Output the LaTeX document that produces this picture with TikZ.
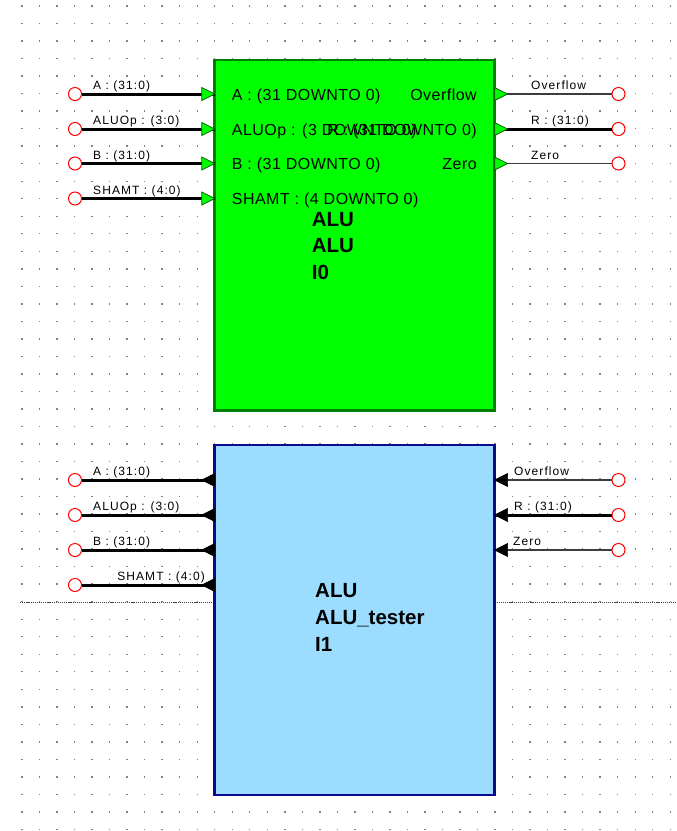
\documentclass[tikz,border=0pt]{standalone}
\usepackage{fontspec}
\setmainfont{Liberation Sans}
\newfontfamily\extf[LetterSpace=9]{Liberation Sans}
\newfontfamily\intf[LetterSpace=3]{Liberation Sans}
\definecolor{ggreen}{RGB}{0,255,0}
\definecolor{gborder}{RGB}{0,128,0}
\definecolor{bfill}{RGB}{155,220,255}
\definecolor{bborder}{RGB}{10,10,140}
\definecolor{gridc}{RGB}{130,130,130}
\definecolor{wirec}{RGB}{60,60,60}
\begin{document}
\begin{tikzpicture}[x=1pt,y=-1pt,
  portc/.style={circle,draw=red,line width=1pt,fill=white,minimum size=13pt,inner sep=0pt},
  bus/.style={line width=3pt,black},
  wire/.style={line width=1.4pt,wirec},
  extlab/.style={inner sep=0pt,font=\extf\fontsize{12}{13}\selectfont},
  intlab/.style={inner sep=0pt,font=\intf\fontsize{16}{17}\selectfont},
  boldlab/.style={inner sep=0pt,anchor=base west,font=\fontsize{20.5}{22}\selectfont\bfseries},
  gtri/.style={fill=ggreen,draw=black!60!green,line width=0.8pt},
  btri/.style={fill=black,draw=black,line width=0.6pt},
  pinR/.pic={\filldraw[gtri] (-13,-6.5) -- (0,0) -- (-13,6.5) -- cycle;},
  poutR/.pic={\filldraw[gtri] (0,-6.5) -- (13,0) -- (0,6.5) -- cycle;},
  bpinL/.pic={\filldraw[btri] (0,-6.5) -- (-13,0) -- (0,6.5) -- cycle;},
  bpoutL/.pic={\filldraw[btri] (13,-6.5) -- (0,0) -- (13,6.5) -- cycle;}
]
\useasboundingbox (0,0) rectangle (677,831);
\fill[white] (0,0) rectangle (677,831);
% dot grid
\foreach \i in {0,...,37}{
  \foreach \j in {0,...,47}{
    \fill[gridc] ({22+17.52*\i-0.7},{6+17.52*\j-0.7}) rectangle ++(1.4,1.4);
  }
}
% dotted separator
\draw[black!75,line width=1pt,dash pattern=on 1.2pt off 0.9pt] (20,602.5) -- (677,602.5);

% boxes
\node[draw=gborder,fill=ggreen,line width=2.5pt,minimum width=279.9pt,minimum height=350.5pt,inner sep=0pt] (alu) at (354.65,235.25) {};
\node[draw=bborder,fill=bfill,line width=2.5pt,minimum width=279.9pt,minimum height=350pt,inner sep=0pt] (tst) at (354.65,620) {};

% ---------- ALU (green) ----------
\coordinate (gA) at (214.7,94);
\coordinate (gOp) at (214.7,129);
\coordinate (gB) at (214.7,163.5);
\coordinate (gS) at (214.7,198.5);
\coordinate (gOv) at (494.6,94);
\coordinate (gR) at (494.6,129);
\coordinate (gZ) at (494.6,163.5);

\node[portc] (cA) at (75,94) {};
\node[portc] (cOp) at (75,129) {};
\node[portc] (cB) at (75,163.5) {};
\node[portc] (cS) at (75,198.5) {};
\node[portc] (cOv) at (618.5,94) {};
\node[portc] (cR) at (618.5,129) {};
\node[portc] (cZ) at (618.5,163.5) {};

\draw[bus] (cA) -- (gA);
\draw[bus] (cOp) -- (gOp);
\draw[bus] (cB) -- (gB);
\draw[bus] (cS) -- (gS);
\draw[wire] (gOv) -- (cOv);
\draw[bus] (gR) -- (cR);
\draw[wire] (gZ) -- (cZ);

\pic at (gA) {pinR};
\pic at (gOp) {pinR};
\pic at (gB) {pinR};
\pic at (gS) {pinR};
\pic at (gOv) {poutR};
\pic at (gR) {poutR};
\pic at (gZ) {poutR};

\node[extlab,anchor=base west] (lA) at (93,89.5) {A : (31:0)};
\node[extlab,anchor=base west] (lOp) at (93,124.5) {ALUOp : (3:0)};
\node[extlab,anchor=base west] (lB) at (93,159) {B : (31:0)};
\node[extlab,anchor=base west] (lS) at (93,194) {SHAMT : (4:0)};
\node[extlab,anchor=base west] (lOv) at (531,89.5) {Overflow};
\node[extlab,anchor=base west] (lR) at (531,124.5) {R : (31:0)};
\node[extlab,anchor=base west] (lZ) at (531,159) {Zero};

\node[intlab,anchor=base west] (iA) at (231.7,100) {A : (31 DOWNTO 0)};
\node[intlab,anchor=base west] (iOp) at (231.7,135) {ALUOp : (3 DOWNTO 0)};
\node[intlab,anchor=base west] (iB) at (231.7,169.5) {B : (31 DOWNTO 0)};
\node[intlab,anchor=base west] (iS) at (231.7,204.5) {SHAMT : (4 DOWNTO 0)};
\node[intlab,anchor=base east] (iOv) at (477,100) {Overflow};
\node[intlab,anchor=base east] (iR) at (477,135) {R : (31 DOWNTO 0)};
\node[intlab,anchor=base east] (iZ) at (477,169.5) {Zero};

\node[boldlab] (t1) at (311.7,226.5) {ALU};
\node[boldlab] (t2) at (311.7,252.5) {ALU};
\node[boldlab] (t3) at (311.7,279) {I0};

% ---------- ALU_tester (blue) ----------
\coordinate (bA) at (214.7,480);
\coordinate (bOp) at (214.7,515);
\coordinate (bB) at (214.7,550);
\coordinate (bS) at (214.7,585);
\coordinate (bOv) at (494.6,480);
\coordinate (bR) at (494.6,515);
\coordinate (bZ) at (494.6,550);

\node[portc] (dA) at (75,480) {};
\node[portc] (dOp) at (75,515) {};
\node[portc] (dB) at (75,550) {};
\node[portc] (dS) at (75,585) {};
\node[portc] (dOv) at (618.5,480) {};
\node[portc] (dR) at (618.5,515) {};
\node[portc] (dZ) at (618.5,550) {};

\draw[bus] (dA) -- (bA);
\draw[bus] (dOp) -- (bOp);
\draw[bus] (dB) -- (bB);
\draw[bus] (dS) -- (bS);
\draw[wire] (bOv) -- (dOv);
\draw[bus] (bR) -- (dR);
\draw[wire] (bZ) -- (dZ);

\pic at (bA) {bpinL};
\pic at (bOp) {bpinL};
\pic at (bB) {bpinL};
\pic at (bS) {bpinL};
\pic at (bOv) {bpoutL};
\pic at (bR) {bpoutL};
\pic at (bZ) {bpoutL};

\node[extlab,anchor=base west] (mA) at (93,475.5) {A : (31:0)};
\node[extlab,anchor=base west] (mOp) at (93,510.5) {ALUOp : (3:0)};
\node[extlab,anchor=base west] (mB) at (93,545.5) {B : (31:0)};
\node[extlab,anchor=base east] (mS) at (205,580.5) {SHAMT : (4:0)};
\node[extlab,anchor=base west] (mOv) at (514,475.5) {Overflow};
\node[extlab,anchor=base west] (mR) at (514,510.5) {R : (31:0)};
\node[extlab,anchor=base west] (mZ) at (513,545.5) {Zero};

\node[boldlab] (u1) at (315,597) {ALU};
\node[boldlab] (u2) at (315,624) {ALU\_tester};
\node[boldlab] (u3) at (315,651) {I1};
\end{tikzpicture}
\end{document}
